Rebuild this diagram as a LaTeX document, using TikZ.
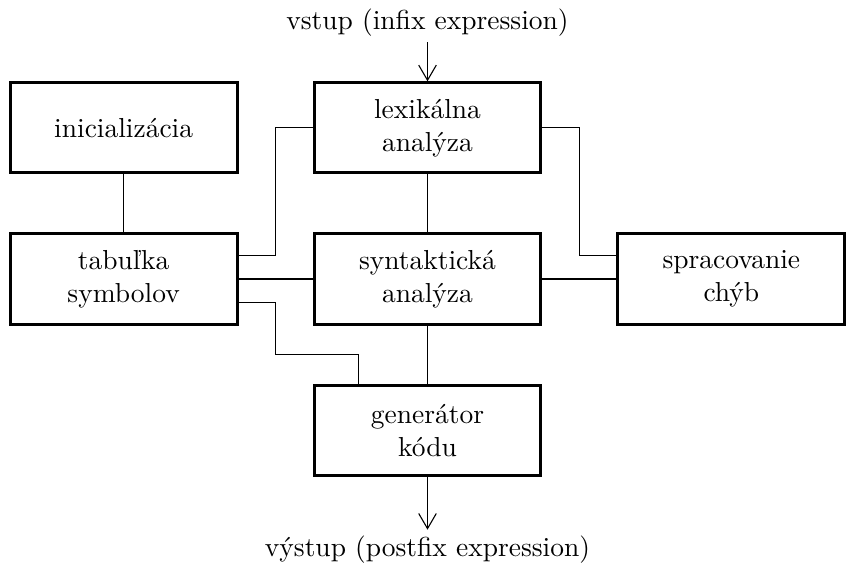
\documentclass[tikz,border=0pt]{standalone}
\usepackage{fontspec}
\usepackage{tikz}
\usetikzlibrary{arrows.meta,calc,positioning}

\begin{document}
\begin{tikzpicture}[x=0.364pt,y=-0.364pt,
box/.style={draw, line width=1.1pt, minimum width=82.6pt, minimum height=32.8pt, align=center, inner sep=2pt},
conn/.style={line width=0.4pt},
arr/.style={conn, -{Straight Barb[length=5.5pt,width=6.4pt]}},
node distance=21.1pt and 26.9pt]
\useasboundingbox (0,0) rectangle (846,565);

\node[box] (syn) at (427.5,279) {syntaktická\\analýza};
\node[box, above=of syn] (lex) {lexikálna\\analýza};
\node[box, below=of syn] (gen) {generátor\\kódu};
\node[box, left=of syn] (tab) {tabuľka\\symbolov};
\node[box, right=of syn] (spr) {spracovanie\\chýb};
\node[box, above=of tab] (ini) {inicializácia};
\node[above=14.2pt of lex, inner sep=2pt] (in) {vstup (infix expression)};
\node[below=19.3pt of gen, inner sep=2pt] (out) {výstup (postfix expression)};

% vertical links
\draw[conn] (ini) -- (tab);
\draw[conn] (lex) -- (syn);
\draw[conn] (syn) -- (gen);
\draw[arr] (in) -- (lex);
\draw[arr] (gen) -- (out);

% helper points
\coordinate (midl) at ($(tab.east)!0.5!(syn.west)$);
\coordinate (midr) at ($(syn.east)!0.5!(spr.west)$);
\coordinate (gmid) at ($(syn.south)!0.5!(gen.north)$);
\coordinate (tabup) at ($(tab.east)!0.5!(tab.north east)$);
\coordinate (tabdn) at ($(tab.east)!0.5!(tab.south east)$);
\coordinate (sprup) at ($(spr.west)!0.5!(spr.north west)$);
\coordinate (genin) at ($(gen.north west)!0.2!(gen.north east)$);

% links to the symbol table
\draw[conn] (lex.west) -- (midl |- lex.west) -- (midl |- tabup) -- (tabup);
\draw[conn] (tab) -- (syn);
\draw[conn] (tabdn) -- (midl |- tabdn) -- (midl |- gmid) -- (genin |- gmid) -- (genin);

% links to error handling
\draw[conn] (lex.east) -- (midr |- lex.east) -- (midr |- sprup) -- (sprup);
\draw[conn] (syn) -- (spr);
\end{tikzpicture}
\end{document}
